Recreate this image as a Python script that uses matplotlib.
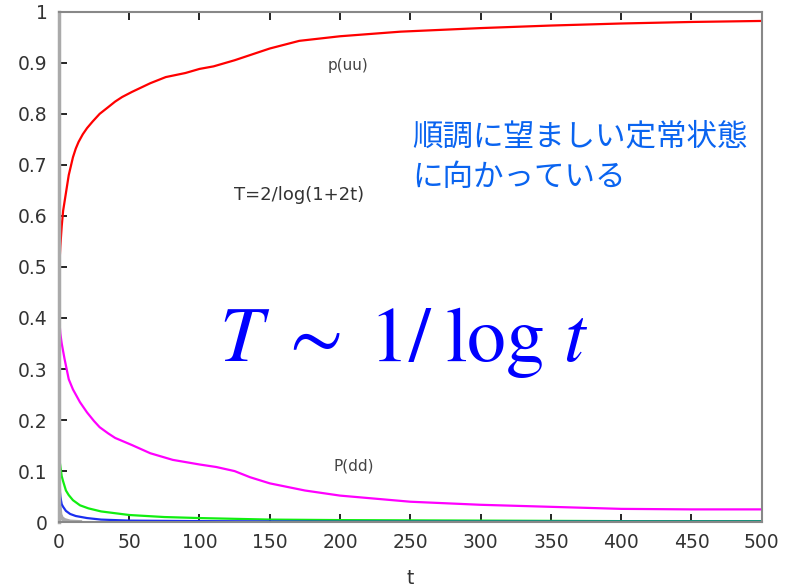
import matplotlib
matplotlib.use('Agg')
import matplotlib.pyplot as plt

plt.rcParams['mathtext.fontset'] = 'stix'

# p(uu), red
t_uu = [0, 0.3, 1, 2, 3, 5, 7, 10, 12, 14, 17, 20, 24, 29, 35, 40, 45, 52, 65, 76,
        90, 100, 110, 125, 150, 171, 200, 243, 300, 350, 400, 450, 500]
p_uu = [0.40, 0.50, 0.54, 0.58, 0.61, 0.645, 0.68, 0.715, 0.732, 0.745, 0.76, 0.772,
        0.785, 0.80, 0.813, 0.824, 0.833, 0.843, 0.86, 0.872, 0.88, 0.888, 0.893,
        0.905, 0.928, 0.943, 0.952, 0.961, 0.968, 0.973, 0.977, 0.980, 0.982]

# P(dd), magenta
t_dd = [0, 0.2, 1, 2, 4, 7, 10, 15, 20, 25, 29, 35, 40, 52, 65, 81, 100, 112, 125,
        136, 150, 175, 200, 250, 300, 350, 400, 450, 500]
p_dd = [0.10, 0.40, 0.37, 0.35, 0.32, 0.28, 0.26, 0.235, 0.215, 0.198, 0.186, 0.174,
        0.165, 0.151, 0.135, 0.122, 0.113, 0.108, 0.10, 0.088, 0.076, 0.062, 0.052,
        0.040, 0.034, 0.030, 0.026, 0.025, 0.025]

# green
t_g = [0, 1, 2, 3, 5, 7, 10, 15, 21, 30, 50, 75, 100, 150, 200, 300, 400, 500]
p_g = [0.13, 0.11, 0.09, 0.08, 0.062, 0.053, 0.043, 0.033, 0.027, 0.021, 0.014,
       0.010, 0.008, 0.005, 0.004, 0.003, 0.002, 0.002]

# blue
t_b = [0, 0.5, 1, 2, 3, 5, 8, 12, 20, 30, 50, 100, 200, 500]
p_b = [0.08, 0.065, 0.05, 0.035, 0.03, 0.022, 0.016, 0.012, 0.008, 0.005, 0.003,
       0.002, 0.001, 0.001]

# gray
t_gr = [0, 0.5, 1, 2, 4, 8, 15]
p_gr = [0.07, 0.03, 0.015, 0.008, 0.004, 0.001, 0.0]

xticks = list(range(0, 501, 50))
yticks = [i / 10 for i in range(11)]
ytick_labels = ['0', '0.1', '0.2', '0.3', '0.4', '0.5', '0.6', '0.7', '0.8', '0.9', '1']

fig = plt.figure(figsize=(7.96, 5.88), dpi=100)
ax = fig.add_axes([0.074, 0.112, 0.883, 0.868])

ax.plot(t_gr, p_gr, color='#aaaaaa', lw=3)
ax.plot(t_g, p_g, color='#11ee11', lw=1.6)
ax.plot(t_b, p_b, color='#1a2ff0', lw=1.6)
ax.plot(t_dd, p_dd, color='#ff00ff', lw=1.6)
ax.plot(t_uu, p_uu, color='#ff0000', lw=1.6)

ax.set_xlim(0, 500)
ax.set_ylim(0, 1)
ax.set_xticks(xticks)
ax.set_yticks(yticks)
ax.set_yticklabels(ytick_labels)
ax.tick_params(direction='in', length=6, width=1.2, top=True, right=False,
               labelsize=13.5, labelcolor='#333333', pad=8)
for s in ax.spines.values():
    s.set_color('#888888')
    s.set_linewidth(1.5)
ax.spines['left'].set_linewidth(2.5)
ax.spines['left'].set_color('#aaaaaa')
ax.set_xlabel('t', fontsize=13.5, color='#333333', labelpad=12)

ax.text(206, 0.895, 'p(uu)', fontsize=11, color='#444444', ha='center', va='center')
ax.text(210, 0.11, 'P(dd)', fontsize=11, color='#444444', ha='center', va='center')
ax.text(171, 0.64, 'T=2/log(1+2t)', fontsize=13, color='#333333', ha='center', va='center')
ax.text(251, 0.755, '順調に望ましい定常状態', fontsize=22, color='#0a64f0',
        ha='left', va='center', family=['Noto Sans CJK JP', 'DejaVu Sans'])
ax.text(251, 0.676, 'に向かっている', fontsize=22, color='#0a64f0',
        ha='left', va='center', family=['Noto Sans CJK JP', 'DejaVu Sans'])
ax.text(245, 0.352, r'$T\;\sim\;1/\;\log\,t$', fontsize=56, color='#0000ff',
        ha='center', va='center')

fig.savefig('out.png', dpi=100)
